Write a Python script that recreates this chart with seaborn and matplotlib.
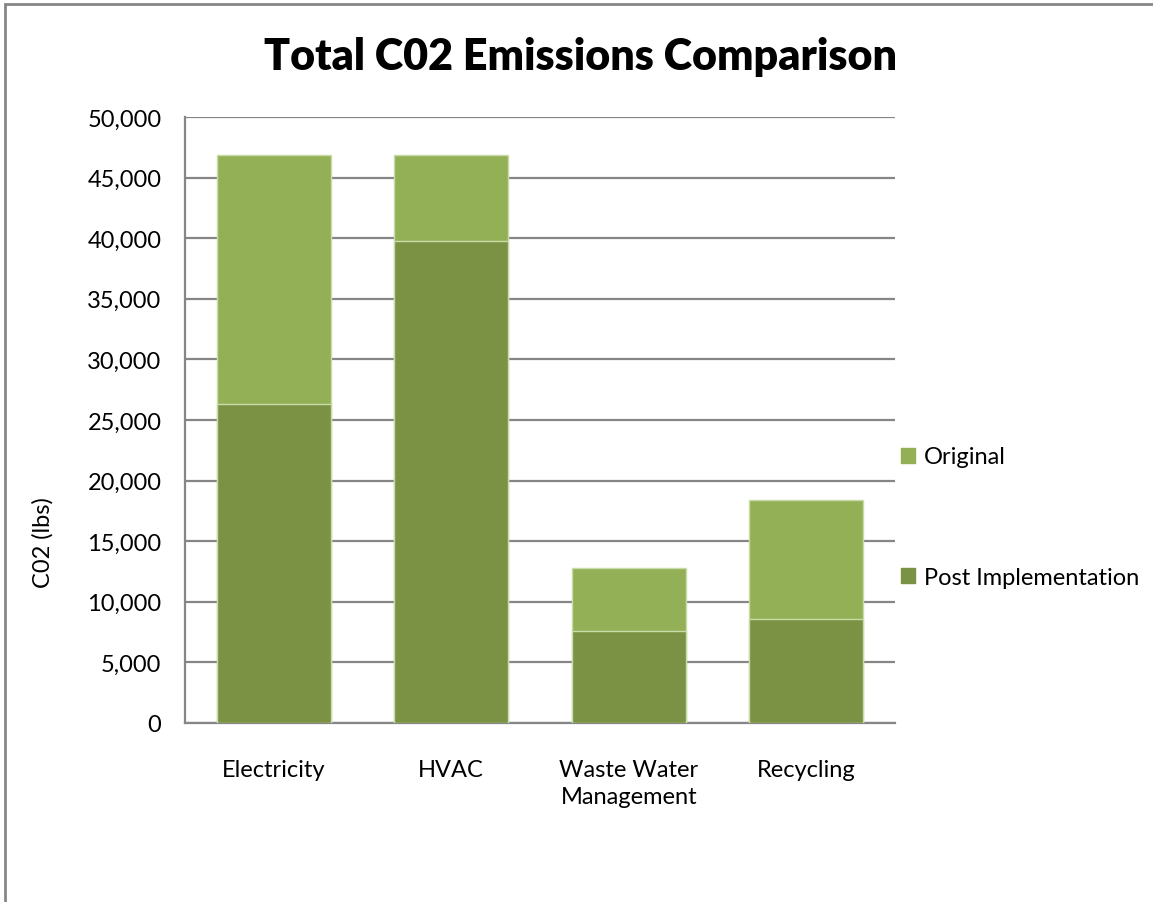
import matplotlib
matplotlib.use("Agg")
import matplotlib.pyplot as plt
from matplotlib.patches import Rectangle
from matplotlib.ticker import FuncFormatter
import pandas as pd
import seaborn as sns

# data
categories = ["Electricity", "HVAC", "Waste Water\nManagement", "Recycling"]
original = [46900, 46900, 12750, 18400]
post_implementation = [26300, 39750, 7550, 8550]

df = pd.DataFrame({
    "Category": categories * 2,
    "CO2": original + post_implementation,
    "Series": ["Original"] * 4 + ["Post Implementation"] * 4,
})

sns.set_theme(style="white")
plt.rcParams["font.family"] = ["Lato", "DejaVu Sans"]
plt.rcParams["text.color"] = "black"

fig = plt.figure(figsize=(11.53, 9.03), dpi=100)
ax = fig.add_axes([185 / 1153, (903 - 724) / 903, 710 / 1153, 606 / 903])

palette = {"Original": "#93b057", "Post Implementation": "#7b9245"}
sns.barplot(data=df, x="Category", y="CO2", hue="Series", order=categories,
            hue_order=["Original", "Post Implementation"], dodge=False,
            palette=palette, width=0.64, edgecolor="#c9dba6", linewidth=1,
            saturation=1, legend=False, ax=ax, zorder=3)

ax.set_ylim(0, 50000)
ax.set_xlim(-0.5, 3.5)
ax.set_yticks(range(0, 50001, 5000))
ax.yaxis.set_major_formatter(FuncFormatter(lambda v, p: f"{int(v):,}"))
ax.grid(axis="y", color="#868686", linewidth=1.6, zorder=0)
ax.set_axisbelow(True)
for s in ["top", "right"]:
    ax.spines[s].set_visible(False)
for s in ["left", "bottom"]:
    ax.spines[s].set_color("#868686")
    ax.spines[s].set_linewidth(1.6)
ax.tick_params(axis="y", labelsize=17, pad=17, length=0, colors="black")
ax.tick_params(axis="x", labelsize=17, pad=26, length=0, colors="black")
for lab in ax.get_xticklabels():
    lab.set_linespacing(1.35)
ax.set_xlabel("")
ax.set_ylabel("C02 (lbs)", fontsize=17, color="black")
ax.yaxis.set_label_coords(-0.185, 0.30)

fig.text(581 / 1153, 1 - 57 / 903, "Total C02 Emissions Comparison",
         ha="center", va="center", fontsize=31, fontweight="heavy",
         color="black")

# legend with wide gap between entries
handles = [Rectangle((0, 0), 1, 1, color=palette[k]) for k in palette]
fig.legend(handles, list(palette.keys()), loc="center left",
           bbox_to_anchor=(880 / 1153, 1 - 518 / 903), frameon=False,
           fontsize=17, handlelength=0.6, handleheight=0.6, handletextpad=0.35,
           labelspacing=4.2)

# chart frame, partly cropped in the picture
fig.patches.append(Rectangle((5 / 1153, -0.1), 1.2, 1 - 5 / 903 + 0.1,
                             transform=fig.transFigure, fill=False,
                             edgecolor="#868686", linewidth=2))

fig.savefig("out.png", dpi=100)
